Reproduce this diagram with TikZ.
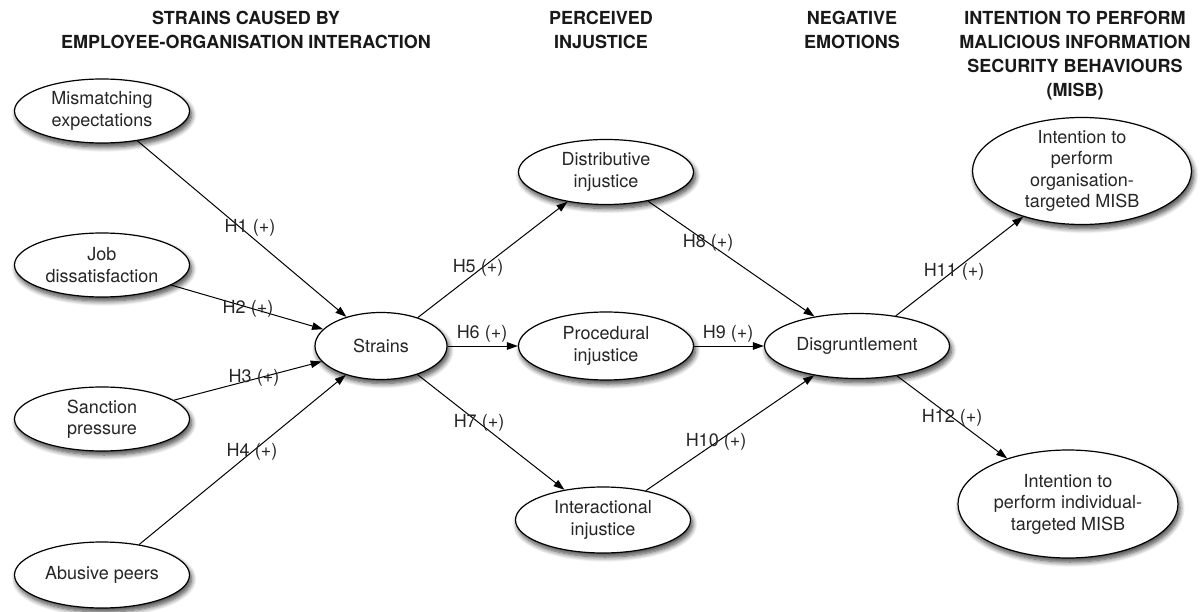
\documentclass[tikz,border=0pt]{standalone}
\usepackage{fontspec}
\setmainfont{TeX Gyre Heros}
\usetikzlibrary{shapes.geometric, arrows.meta, shadows.blur}

\tikzset{
  cons/.style={ellipse, draw, line width=1.2pt, fill=white, align=center, inner sep=0pt,
    font=\fontsize{18}{21.5}\selectfont, text=black!85,
    blur shadow={shadow xshift=2pt, shadow yshift=-4pt, shadow blur steps=8, shadow blur radius=5pt, shadow opacity=75}},
  hyp/.style={font=\fontsize{18}{21.5}\selectfont, text=black!85, inner sep=0pt},
  head/.style={font=\fontsize{18}{24}\bfseries\selectfont, align=center, inner sep=0pt, anchor=north, text=black!90},
  link/.style={line width=1pt, -{Triangle[length=11pt,width=7.5pt]}}
}

\begin{document}
\begin{tikzpicture}[x=1pt,y=1pt,yscale=-1,xscale=1]
\useasboundingbox (0,0) rectangle (1202,612);

% Headings
\node [head] (hstrain) at (246,10.5) {STRAINS CAUSED BY\\EMPLOYEE-ORGANISATION INTERACTION};
\node [head] (hinjust) at (601,10.5) {PERCEIVED\\INJUSTICE};
\node [head] (hemot) at (852,10.5) {NEGATIVE\\EMOTIONS};
\node [head] (hmisb) at (1075,10.5) {INTENTION TO PERFORM\\MALICIOUS INFORMATION\\SECURITY BEHAVIOURS\\(MISB)};

% Constructs
\node [cons, minimum width=175pt, minimum height=64pt] (mismatch) at (102,111) {Mismatching\\expectations};
\node [cons, minimum width=175pt, minimum height=64pt] (jobdis) at (102,265) {Job\\dissatisfaction};
\node [cons, minimum width=175pt, minimum height=64pt] (sanction) at (102,419) {Sanction\\pressure};
\node [cons, minimum width=175pt, minimum height=66pt] (abusive) at (102,575) {Abusive peers};
\node [cons, minimum width=132pt, minimum height=67pt] (strains) at (381,346) {Strains};
\node [cons, minimum width=175pt, minimum height=65pt] (distrib) at (606,172) {Distributive\\injustice};
\node [cons, minimum width=175pt, minimum height=68pt] (proced) at (606,346) {Procedural\\injustice};
\node [cons, minimum width=175pt, minimum height=66pt] (interact) at (603,520) {Interactional\\injustice};
\node [cons, minimum width=185pt, minimum height=65pt] (disgrunt) at (857,346) {Disgruntlement};
\node [cons, minimum width=219pt, minimum height=107pt, inner ysep=-12pt] (intorg) at (1082,171) {Intention to\\perform\\organisation-\\targeted MISB};
\node [cons, minimum width=220pt, minimum height=108pt, inner ysep=-8pt] (intind) at (1068,504) {Intention to\\perform individual-\\targeted MISB};

% Hypotheses
\draw [link] (mismatch) -- (strains);
\draw [link] (jobdis) -- (strains);
\draw [link] (sanction) -- (strains);
\draw [link] (abusive) -- (strains);
\draw [link] (strains) -- (distrib);
\draw [link] (strains) -- (proced);
\draw [link] (strains) -- (interact);
\draw [link] (distrib) -- (disgrunt);
\draw [link] (proced) -- (disgrunt);
\draw [link] (interact) -- (disgrunt);
\draw [link] (disgrunt) -- (intorg);
\draw [link] (disgrunt) -- (intind);

% Text Node
\node [hyp] (h1) at (250,228) {H1 (+)};
\node [hyp] (h2) at (248,309) {H2 (+)};
\node [hyp] (h3) at (254,378) {H3 (+)};
\node [hyp] (h4) at (252,452) {H4 (+)};
\node [hyp] (h5) at (478,268) {H5 (+)};
\node [hyp] (h6) at (482,334) {H6 (+)};
\node [hyp] (h7) at (479,423) {H7 (+)};
\node [hyp] (h8) at (708,243) {H8 (+)};
\node [hyp] (h9) at (728,334) {H9 (+)};
\node [hyp] (h10) at (716,442) {H10 (+)};
\node [hyp] (h11) at (954,272) {H11 (+)};
\node [hyp] (h12) at (952,418) {H12 (+)};

\end{tikzpicture}
\end{document}
